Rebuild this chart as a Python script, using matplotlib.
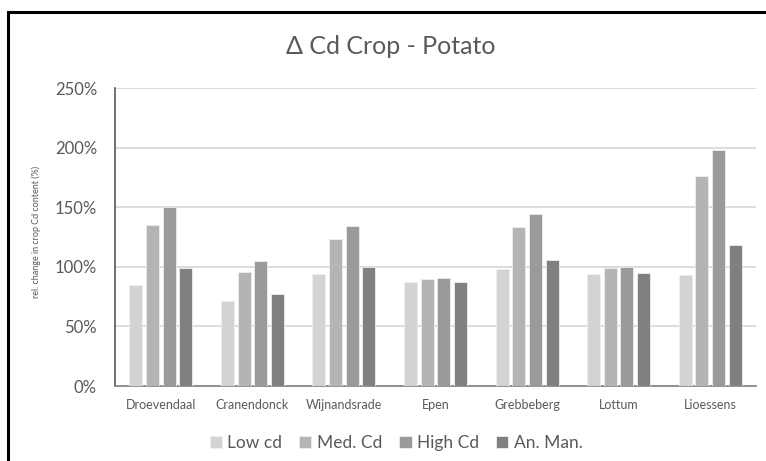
"""Delta Cd crop - potato: grouped bar chart (relative change in crop Cd)."""

import matplotlib
matplotlib.use("Agg")
import matplotlib.pyplot as plt
from matplotlib.patches import Rectangle
from matplotlib.ticker import FuncFormatter
import numpy as np

plt.rcParams["font.family"] = ["Lato", "DejaVu Sans"]

# ── data ──────────────────────────────────────────────────────
sites = ["Droevendaal", "Cranendonck", "Wijnandsrade", "Epen",
         "Grebbeberg", "Lottum", "Lioessens"]
series = ["Low cd", "Med. Cd", "High Cd", "An. Man."]
low_cd = [85, 71, 94, 87, 98, 94, 93]
med_cd = [135, 96, 123, 90, 133, 99, 176]
high_cd = [150, 105, 134, 91, 144, 100, 198]
an_man = [99, 77, 100, 87, 106, 95, 118]

values = [low_cd, med_cd, high_cd, an_man]
colors = ["#d3d3d3", "#b4b4b4", "#9a9a9a", "#808080"]
TXT = "#595959"

W, H = 766, 461
fig = plt.figure(figsize=(W / 100, H / 100), dpi=100)

# outer frame (cropped on the right and bottom in the reference)
fig.patches.append(Rectangle((8 / W, -0.1), 1.2, 1 - 12 / H + 0.1,
                             transform=fig.transFigure, fill=False,
                             edgecolor="black", linewidth=2.2))

ax = fig.add_axes([115 / W, 1 - 386 / H, (756 - 115) / W, (386 - 88) / H])

x = np.arange(len(sites))
step, width = 0.182, 0.142
for i, (vals, name, col) in enumerate(zip(values, series, colors)):
    ax.bar(x + (i - 1.5) * step, vals, width, color=col, label=name,
           edgecolor="#eeeeee", linewidth=0.6, zorder=3)

ax.set_xlim(-0.5, len(sites) - 0.5)
ax.set_ylim(0, 250)
ax.set_yticks(range(0, 251, 50))
ax.yaxis.set_major_formatter(FuncFormatter(lambda v, _: f"{v:.0f}%"))
ax.set_xticks(x)
ax.set_xticklabels(sites, fontsize=9, color=TXT)
ax.tick_params(axis="y", labelsize=12, colors=TXT, length=0, pad=13)
ax.tick_params(axis="x", length=0, pad=9)
ax.grid(axis="y", color="#d9d9d9", linewidth=1.3, zorder=0)

for s in ("top", "right"):
    ax.spines[s].set_visible(False)
ax.spines["left"].set_color("#595959")
ax.spines["left"].set_linewidth(1.2)
ax.spines["bottom"].set_color("#808080")
ax.spines["bottom"].set_linewidth(1.2)

fig.text(36 / W, 1 - 232 / H, "rel. change in crop Cd content (%)",
         rotation=90, ha="center", va="center", fontsize=6.5, color=TXT)
fig.text(391 / W, 1 - 47 / H, "Δ Cd Crop - Potato", ha="center",
         va="center", fontsize=18, color=TXT)

fig.legend(loc="center", bbox_to_anchor=(396 / W, 1 - 443 / H), ncol=4,
           frameon=False, fontsize=12.5, labelcolor=TXT, handlelength=0.7,
           handleheight=0.7, handletextpad=0.3, columnspacing=1.0)

fig.savefig("out.png", dpi=100)
